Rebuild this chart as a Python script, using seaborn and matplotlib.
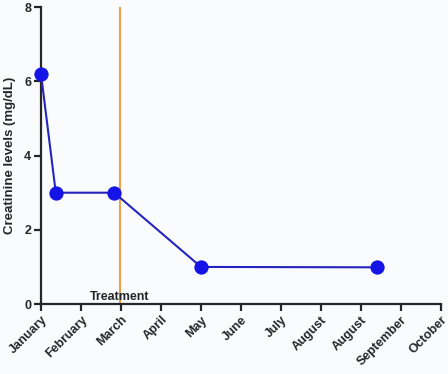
import matplotlib
matplotlib.use("Agg")
import matplotlib.pyplot as plt
import seaborn as sns
import pandas as pd

# data
months = ["January", "February", "March", "April", "May", "June", "July",
          "August", "August", "September", "October"]
x_pos = [0.0, 0.37, 1.83, 4.0, 8.39]
creatinine = [6.2, 3.0, 3.0, 1.0, 0.99]
treatment_x = 1.97

df = pd.DataFrame({"x": x_pos, "y": creatinine})

sns.set_style("ticks")
plt.rcParams["font.family"] = ["Liberation Sans", "DejaVu Sans"]

fig = plt.figure(figsize=(4.48, 3.74), dpi=100, facecolor="#fafbfd")
ax = fig.add_axes([0.0915, 0.187, 0.893, 0.794])
ax.set_facecolor("#fafbfd")

ax.axvline(treatment_x, color="#e9a24a", lw=1.5, zorder=1)
sns.lineplot(data=df, x="x", y="y", ax=ax, color="#2424c0", lw=1.5,
             marker="o", markersize=9.5, markerfacecolor="#1414e6",
             markeredgecolor="#1414e6", clip_on=False, zorder=3)

ax.set_xlim(0, 10)
ax.set_ylim(0, 8)
ax.set_xticks(range(len(months)))
ax.set_xticklabels(months, rotation=45, ha="right", rotation_mode="anchor",
                   fontsize=9, fontweight="bold")
ax.set_yticks([0, 2, 4, 6, 8])
ax.set_yticklabels(["0", "2", "4", "6", "8"], fontsize=9, fontweight="bold")
ax.set_xlabel("")
ax.set_ylabel("Creatinine levels (mg/dL)", fontsize=9.5, fontweight="bold",
              labelpad=6)

ax.text(treatment_x, 0.04, "Treatment", ha="center", va="bottom",
        fontsize=9, fontweight="bold")

for s in ["top", "right"]:
    ax.spines[s].set_visible(False)
for s in ["left", "bottom"]:
    ax.spines[s].set_linewidth(1.6)
ax.tick_params(width=1.6, length=5, direction="out", pad=2)

fig.savefig("out.png", dpi=100, facecolor=fig.get_facecolor())
